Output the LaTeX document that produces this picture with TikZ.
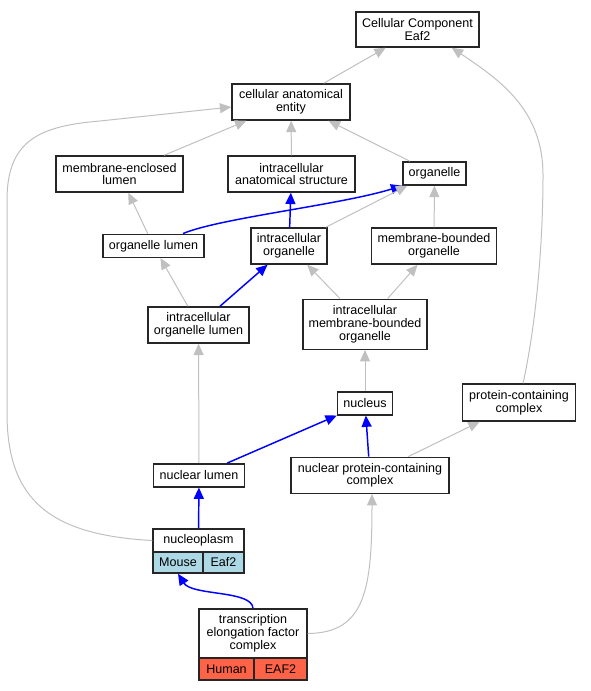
\documentclass[tikz,border=0pt]{standalone}
\usepackage{fontspec}
\setmainfont{Liberation Sans}
\usetikzlibrary{arrows.meta,calc}
\definecolor{edgegray}{HTML}{C0C0C0}
\definecolor{lblue}{HTML}{ADD8E6}
\definecolor{tomatoc}{HTML}{FF6347}
\begin{document}
\begin{tikzpicture}[x=0.75pt,y=-0.75pt,
  box/.style={draw=black!85, line width=1.1pt, fill=white, inner sep=0pt, align=center,
    font=\fontsize{9.4}{9.6}\selectfont},
  ge/.style={color=edgegray, line width=0.75pt, -{Triangle[length=8.5pt,width=7.5pt]}},
  be/.style={color=blue, line width=1.1pt, -{Triangle[length=8.5pt,width=7.5pt]}}]
\useasboundingbox (0,0) rectangle (591,691);
% nodes
\node[box, minimum width=92.25pt, minimum height=26.25pt] (cc) at (417.5,29.5) {Cellular Component\\Eaf2};
\node[box, minimum width=88.5pt, minimum height=27pt] (cae) at (291,102) {cellular anatomical\\entity};
\node[box, minimum width=95.25pt, minimum height=27pt] (mel) at (119.5,174) {membrane-enclosed\\lumen};
\node[box, minimum width=95.25pt, minimum height=27pt] (ias) at (291.5,174) {intracellular\\anatomical structure};
\node[box, minimum width=47.25pt, minimum height=17.25pt] (org) at (434.5,173.5) {organelle};
\node[box, minimum width=75.75pt, minimum height=17.25pt] (ol) at (153.5,245.8) {organelle lumen};
\node[box, minimum width=57pt, minimum height=27pt] (io) at (289,246) {intracellular\\organelle};
\node[box, minimum width=93.75pt, minimum height=27pt] (mbo) at (434,246) {membrane-bounded\\organelle};
\node[box, minimum width=75.75pt, minimum height=27pt] (iol) at (198.5,325) {intracellular\\organelle lumen};
\node[box, minimum width=93pt, minimum height=37.5pt] (imbo) at (365,324.3) {intracellular\\membrane-bounded\\organelle};
\node[box, minimum width=41.25pt, minimum height=17.25pt] (nuc) at (365,403.3) {nucleus};
\node[box, minimum width=84.75pt, minimum height=27.75pt] (pcc) at (519,402.5) {protein-containing\\complex};
\node[box, minimum width=68.25pt, minimum height=17.25pt] (nl) at (199,475.3) {nuclear lumen};
\node[box, minimum width=118.5pt, minimum height=27pt] (npc) at (370,475.3) {nuclear protein-containing\\complex};
\node[box, minimum width=68.25pt, minimum height=17.25pt] (np) at (198.5,540.5) {nucleoplasm};
\node[box, fill=lblue, minimum width=37.5pt, minimum height=15.75pt] (mouse) at (178,562.5) {Mouse};
\node[box, fill=lblue, minimum width=30.75pt, minimum height=15.75pt] (eafm) at (223.5,562.5) {Eaf2};
\node[box, minimum width=81pt, minimum height=36.75pt] (tefc) at (253,633.5) {transcription\\elongation factor\\complex};
\node[box, fill=tomatoc, minimum width=41.25pt, minimum height=16.5pt] (human) at (226.5,669) {Human};
\node[box, fill=tomatoc, minimum width=39.75pt, minimum height=16.5pt] (eafh) at (280.5,669) {EAF2};
% edges
\draw[ge] (cae) -- (cc);
\draw[ge] ($(pcc.north)+(4,0)$) .. controls (535,330) and (543,250) .. (543,175)
   .. controls (543,110) and (500,80) .. ($(cc.south east)+(-28,0)$);
\draw[ge] (mel) -- (cae);
\draw[ge] (ias) -- (cae);
\draw[ge] (org) -- (cae);
\draw[ge] (np.west) .. controls (50,535) and (7,500) .. (7,413) -- (7,200)
   .. controls (7,140) and (40,126) .. (100,121) -- ($(cae.west)+(0,5)$);
\draw[ge] (ol) -- (mel);
\draw[be] ($(ol.north)+(29.5,0)$) .. controls (220,218) and (340,205) .. (org.south west);
\draw[ge] (io) -- ($(org.south west)+(5,0)$);
\draw[be] (io) -- (ias);
\draw[ge] (mbo) -- (org);
\draw[ge] (iol) -- (ol);
\draw[be] (iol) -- (io);
\draw[ge] (imbo) -- (io);
\draw[ge] (imbo) -- (mbo);
\draw[ge] (nuc) -- (imbo);
\draw[ge] (nl) -- (iol);
\draw[be] (nl) -- (nuc);
\draw[be] (npc) -- (nuc);
\draw[ge] (npc) -- (pcc);
\draw[be] (np) -- (nl);
\draw[be] (tefc.north) .. controls (252,590) and (192,596) .. (mouse.south);
\draw[ge] (tefc.east) .. controls (365,633) and (372,590) .. ($(npc.south)+(2,0)$);
\end{tikzpicture}
\end{document}
